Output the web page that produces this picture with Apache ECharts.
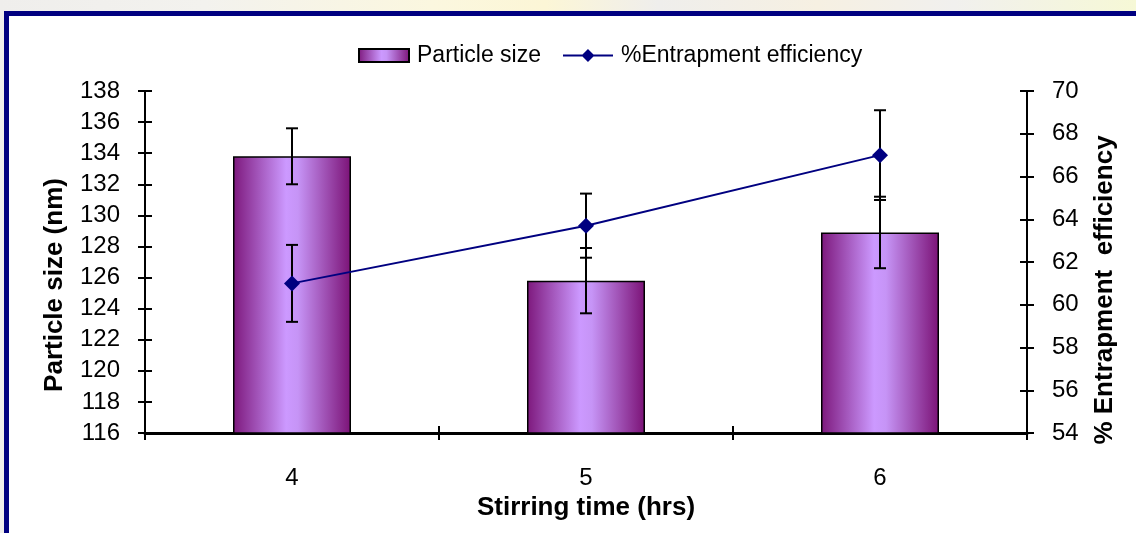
<!DOCTYPE html>
<html>
<head>
<meta charset="utf-8">
<script src="https://cdn.jsdelivr.net/npm/echarts@6/dist/echarts.min.js"></script>
<style>
  html, body { margin: 0; padding: 0; width: 1136px; height: 533px; overflow: hidden; }
  body {
    background: linear-gradient(90deg, #efeeec 0%, #f3f2ee 18%, #fbf7df 38%, #fcf6d6 48%, #efeeec 58%, #f6f0e2 72%, #f1f0ee 84%, #f6f8d6 100%);
    position: relative;
  }
  #frame {
    position: absolute; left: 4px; top: 11px; width: 1140px; height: 530px;
    border-top: 5px solid #000080; border-left: 5px solid #000080; background: #fff;
  }
  #chart { position: absolute; left: 0; top: 0; width: 1136px; height: 533px; }
</style>
</head>
<body>
<div id="frame"></div>
<div id="chart"></div>
<script>
// stirring time (hrs)
const categories = ["4", "5", "6"];
// particle size (nm) and its error
const particleSize = [133.8, 125.8, 128.9];
const particleErr = [1.8, 2.1, 2.3];
// % entrapment efficiency and its error
const entrapment = [61.0, 63.7, 67.0];
const entrapmentErr = [1.8, 1.5, 2.1];

const FONT = "'Liberation Sans', Arial, sans-serif";

function errorData(values, errs) {
  return values.map((v, i) => [i, v, errs[i]]);
}

// whisker: vertical line plus caps
function renderError(params, api) {
  const i = api.value(0), v = api.value(1), e = api.value(2);
  const top = api.coord([i, v + e]);
  const bot = api.coord([i, v - e]);
  const half = 6;
  const style = { stroke: "#000", lineWidth: 2 };
  return {
    type: "group",
    children: [
      { type: "line", shape: { x1: top[0], y1: top[1], x2: bot[0], y2: bot[1] }, style },
      { type: "line", shape: { x1: top[0] - half, y1: top[1], x2: top[0] + half, y2: top[1] }, style },
      { type: "line", shape: { x1: bot[0] - half, y1: bot[1], x2: bot[0] + half, y2: bot[1] }, style },
    ],
  };
}

function valueAxis(min, max, position, extra) {
  return Object.assign({
    type: "value",
    position,
    min, max, interval: 2,
    axisLine: { show: true, lineStyle: { color: "#000", width: 2 } },
    axisTick: { show: true, length: 7, lineStyle: { color: "#000", width: 2 } },
    splitLine: { show: false },
    axisLabel: { color: "#000", fontSize: 24, fontFamily: FONT, margin: 25 },
  }, extra);
}

const chart = echarts.init(document.getElementById("chart"));
chart.setOption({
  animation: false,
  backgroundColor: "transparent",
  grid: { left: 145, right: 109, top: 91, bottom: 100, containLabel: false },
  legend: {
    data: [
      { name: "Particle size", icon: "rect" },
      // line with a diamond in the middle
      { name: "%Entrapment efficiency", icon: "path://M0,5.5H50V7.5H0Z M25,0L31.5,6.5L25,13L18.5,6.5Z" },
    ],
    left: 358, top: 44, padding: 0,
    itemWidth: 50, itemHeight: 13, itemGap: 22,
    textStyle: { color: "#000", fontSize: 23, fontFamily: FONT, padding: [0, 0, 0, 3] },
  },
  xAxis: [
    {
      type: "category",
      data: categories,
      axisLine: { show: true, lineStyle: { color: "#000", width: 3 } },
      axisTick: { show: true, length: 7, lineStyle: { color: "#000", width: 2 } },
      axisLabel: { color: "#000", fontSize: 24, fontFamily: FONT, margin: 33 },
      name: "Stirring time (hrs)",
      nameLocation: "middle",
      nameGap: 58,
      nameTextStyle: { color: "#000", fontSize: 26, fontWeight: "bold", fontFamily: FONT },
    },
    {
      // inward half of the crossing ticks
      type: "category",
      data: categories,
      position: "bottom",
      axisLine: { show: false },
      axisTick: { show: true, inside: true, length: 7, lineStyle: { color: "#000", width: 2 } },
      axisLabel: { show: false },
    },
  ],
  yAxis: [
    valueAxis(116, 138, "left", {
      name: "Particle size (nm)",
      nameLocation: "middle",
      nameRotate: 90,
      nameGap: 77,
      nameTextStyle: { color: "#000", fontSize: 26, fontWeight: "bold", fontFamily: FONT, padding: [0, 46, 0, 0] },
    }),
    valueAxis(54, 70, "right", {
      name: "% Entrapment  efficiency",
      nameLocation: "middle",
      nameRotate: 90,
      nameGap: 65,
      nameTextStyle: { color: "#000", fontSize: 26, fontWeight: "bold", fontFamily: FONT, padding: [0, 56, 0, 0] },
    }),
    valueAxis(116, 138, "left", {
      axisLine: { show: false },
      axisTick: { show: true, inside: true, length: 7, lineStyle: { color: "#000", width: 2 } },
      axisLabel: { show: false },
    }),
    valueAxis(54, 70, "right", {
      axisLine: { show: false },
      axisTick: { show: true, inside: true, length: 7, lineStyle: { color: "#000", width: 2 } },
      axisLabel: { show: false },
    }),
  ],
  series: [
    {
      name: "Particle size",
      type: "bar",
      data: particleSize,
      barWidth: 118,
      z: 2,
      itemStyle: {
        borderColor: "#000",
        borderWidth: 1.5,
        color: new echarts.graphic.LinearGradient(0, 0, 1, 0, [
          { offset: 0, color: "#7d187c" },
          { offset: 0.45, color: "#cc99ff" },
          { offset: 0.55, color: "#c694f6" },
          { offset: 1, color: "#7b1276" },
        ]),
      },
    },
    {
      type: "custom",
      data: errorData(particleSize, particleErr),
      renderItem: renderError,
      z: 3,
      silent: true,
    },
    {
      type: "custom",
      yAxisIndex: 1,
      data: errorData(entrapment, entrapmentErr),
      renderItem: renderError,
      z: 3,
      silent: true,
    },
    {
      name: "%Entrapment efficiency",
      type: "line",
      yAxisIndex: 1,
      data: entrapment,
      z: 5,
      symbol: "diamond",
      symbolSize: 16,
      color: "#000080",
      itemStyle: { color: "#000080" },
      lineStyle: { color: "#000080", width: 2 },
    },
  ],
});
</script>
</body>
</html>
